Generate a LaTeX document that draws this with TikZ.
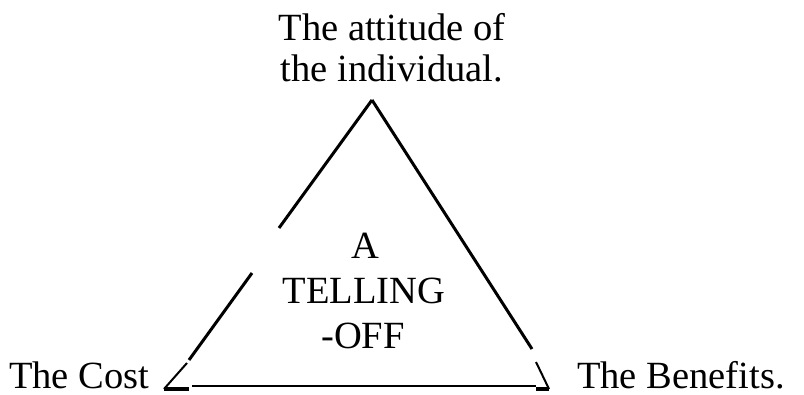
\documentclass[tikz,border=0pt]{standalone}
\usepackage{fontspec}
\setmainfont{Liberation Serif}
\begin{document}
\begin{tikzpicture}[x=1pt,y=-1pt,
  lbl/.style={inner sep=0pt,font=\fontsize{38.5}{42}\selectfont},
  edge/.style={line width=3pt},
  thinedge/.style={line width=2pt},
  baseline/.style={line width=1.3pt},
  foot/.style={line width=3.2pt}]
\useasboundingbox (0,0) rectangle (804,394);
% labels
\node[lbl,anchor=base] (t1) at (392,40) {The attitude of};
\node[lbl,anchor=base] (t2) at (392,81) {the individual.};
\node[lbl,anchor=base west,text depth=0pt] (cost) at (9,388) {The Cost};
\node[lbl,anchor=base west,text depth=0pt] (ben) at (577,388) {The Benefits.};
\node[lbl,anchor=base] (ca) at (365,258) {A};
\node[lbl,anchor=base] (cb) at (364,303) {TELLING};
\node[lbl,anchor=base,text depth=0pt] (cc) at (363,348) {-OFF};
% triangle corners
\coordinate (apex) at (372,100);
\coordinate (l1e) at (279,228);
\coordinate (l2s) at (252,273);
\coordinate (l2e) at (189,360);
\coordinate (l3s) at (187,363);
\coordinate (lb) at (164,389);
\coordinate (lbe) at (189,389);
\coordinate (bs) at (192,386);
\coordinate (be) at (536,386);
\coordinate (r1e) at (532,349);
\coordinate (r2s) at (536,362);
\coordinate (rb) at (549,389);
\coordinate (rbs) at (536,389);
% edges
\draw[edge] (apex) -- (l1e);
\draw[edge] (l2s) -- (l2e);
\draw[thinedge] (l3s) -- (lb);
\draw[foot] (lb) -- (lbe);
\draw[baseline] (bs) -- (be);
\draw[edge] (apex) -- (r1e);
\draw[thinedge] (r2s) -- (rb);
\draw[foot] (rbs) -- (rb);
\end{tikzpicture}
\end{document}
